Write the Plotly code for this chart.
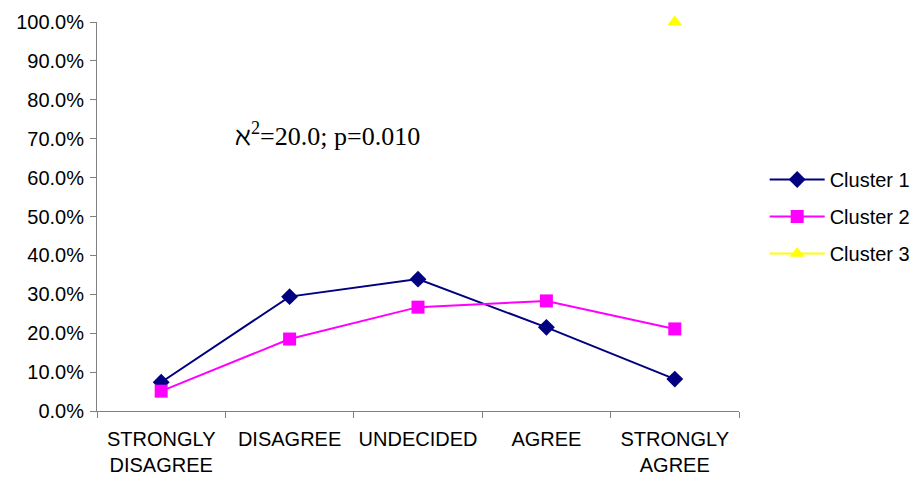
import plotly.graph_objects as go

categories = ["STRONGLY<br>DISAGREE", "DISAGREE", "UNDECIDED", "AGREE", "STRONGLY<br>AGREE"]
cluster1 = [0.074, 0.294, 0.339, 0.215, 0.082]
cluster2 = [0.051, 0.185, 0.267, 0.283, 0.211]
cluster3 = [None, None, None, None, 1.0]
y_ticks = [i / 10 for i in range(11)]

fig = go.Figure()
fig.add_trace(go.Scatter(x=categories, y=cluster1, name="Cluster 1", mode="lines+markers",
                         line=dict(color="#000080", width=2),
                         marker=dict(symbol="diamond", size=13, color="#000080"),
                         legendgroup="c1", cliponaxis=False))
fig.add_trace(go.Scatter(x=categories, y=cluster2, name="Cluster 2", mode="lines+markers",
                         line=dict(color="#FF00FF", width=2),
                         marker=dict(symbol="square", size=13, color="#FF00FF"),
                         legendgroup="c2", cliponaxis=False))
fig.add_trace(go.Scatter(x=categories, y=cluster3, name="Cluster 3", mode="lines+markers",
                         line=dict(color="#FFFF00", width=2),
                         marker=dict(symbol="triangle-up", size=13, color="#FFFF00"),
                         legendgroup="c3", cliponaxis=False))

fig.add_annotation(x=0.212, y=0.712, xref="paper", yref="paper",
                   text="\u2135<sup>2</sup>=20.0; p=0.010", showarrow=False,
                   xanchor="left", yanchor="middle",
                   font=dict(family="Liberation Serif, Times New Roman, serif", size=26, color="black"))

fig.update_layout(
    width=920, height=481,
    margin=dict(l=89, r=189, t=14, b=78),
    paper_bgcolor="white", plot_bgcolor="white",
    font=dict(family="Liberation Sans, Arial, sans-serif", size=20, color="black"),
    showlegend=True,
    legend=dict(x=1.04, y=0.5, xanchor="left", yanchor="middle",
                font=dict(size=20), tracegroupgap=8, traceorder="grouped",
                itemwidth=55, bgcolor="rgba(0,0,0,0)"),
)
fig.update_xaxes(type="category", range=[-0.5, 4.5], showline=True, linecolor="#808080",
                 linewidth=1, ticks="outside", tickson="boundaries", ticklen=6,
                 tickcolor="#808080", showgrid=False, zeroline=False, ticklabelstandoff=10,
                 automargin=False, tickfont=dict(size=20))
fig.update_yaxes(range=[0, 1], tickvals=y_ticks, tickformat=".1%", showline=True,
                 linecolor="#808080", linewidth=1, ticks="outside", ticklen=6,
                 tickcolor="#808080", showgrid=False, zeroline=False, ticklabelstandoff=2,
                 automargin=False, tickfont=dict(size=20))

fig.write_html("out.html")
